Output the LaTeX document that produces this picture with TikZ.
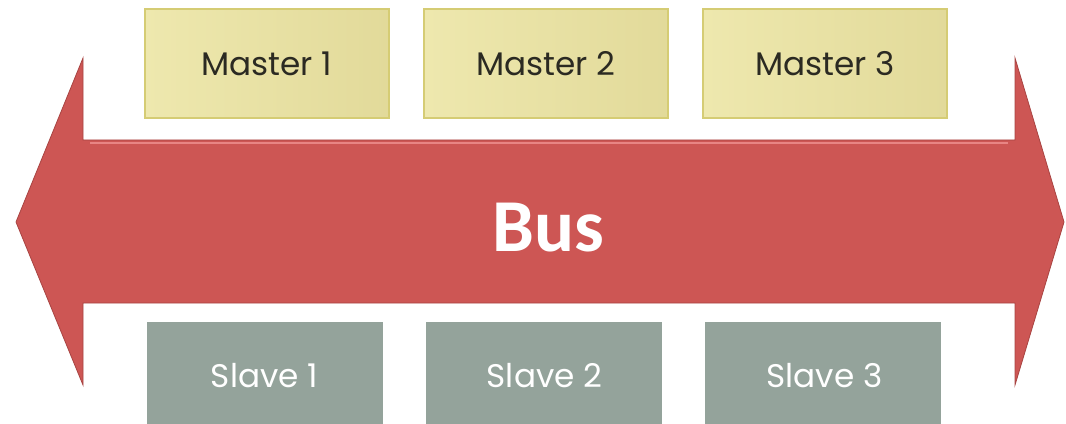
\documentclass[tikz,border=0pt]{standalone}
\usepackage{fontspec}
\setmainfont{Poppins}
\newfontfamily\busfont{Carlito}
\usetikzlibrary{shadings}
\definecolor{busred}{HTML}{CD5654}
\definecolor{busdark}{HTML}{A84442}
\definecolor{buslight}{HTML}{E88584}
\definecolor{mfillA}{HTML}{EEE8AE}
\definecolor{mfillB}{HTML}{E2DA9A}
\definecolor{mborder}{HTML}{D5CC74}
\definecolor{mtext}{HTML}{2B2A22}
\definecolor{sfill}{HTML}{94A39B}
\tikzset{
  masterbox/.style={draw=mborder, line width=1.2pt, left color=mfillA, right color=mfillB,
    minimum width=183pt, minimum height=82pt, inner sep=0pt, anchor=north west,
    text=mtext, font=\fontsize{24.5}{28}\selectfont},
  slavebox/.style={draw=none, fill=sfill, minimum width=177pt, minimum height=80pt,
    inner sep=0pt, anchor=north west},
  slavelabel/.style={text=white, font=\fontsize{24.5}{28}\selectfont},
  buslabel/.style={text=white, font=\busfont\bfseries\fontsize{56}{64}\selectfont}
}
\begin{document}
\begin{tikzpicture}[x=0.75pt,y=-0.75pt]
\useasboundingbox (0,0) rectangle (1066,424);
% bus arrow
\path[fill=busred, draw=busdark, line width=0.6pt]
  (16,222) -- (83,58) -- (83,140) -- (1015,140) -- (1015,58) -- (1064,222)
  -- (1015,385) -- (1015,303) -- (83,303) -- (83,385) -- cycle;
\draw[buslight, line width=2pt] (90,143) -- (1008,143);
\node[buslabel] (bus) at (548,228) {Bus};
% masters
\node[masterbox] (m1) at (144,8) {Master 1};
\node[masterbox] (m2) at (423,8) {Master 2};
\node[masterbox] (m3) at (702,8) {Master 3};
% slaves
\node[slavebox] (s1) at (147,322) {};
\node[slavebox] (s2) at (426,322) {};
\node[slavebox] (s3) at (705,322) {};
\node[slavelabel] (s1t) at (264.5,376) {Slave 1};
\node[slavelabel] (s2t) at (544.5,376) {Slave 2};
\node[slavelabel] (s3t) at (824.5,376) {Slave 3};
\end{tikzpicture}
\end{document}
